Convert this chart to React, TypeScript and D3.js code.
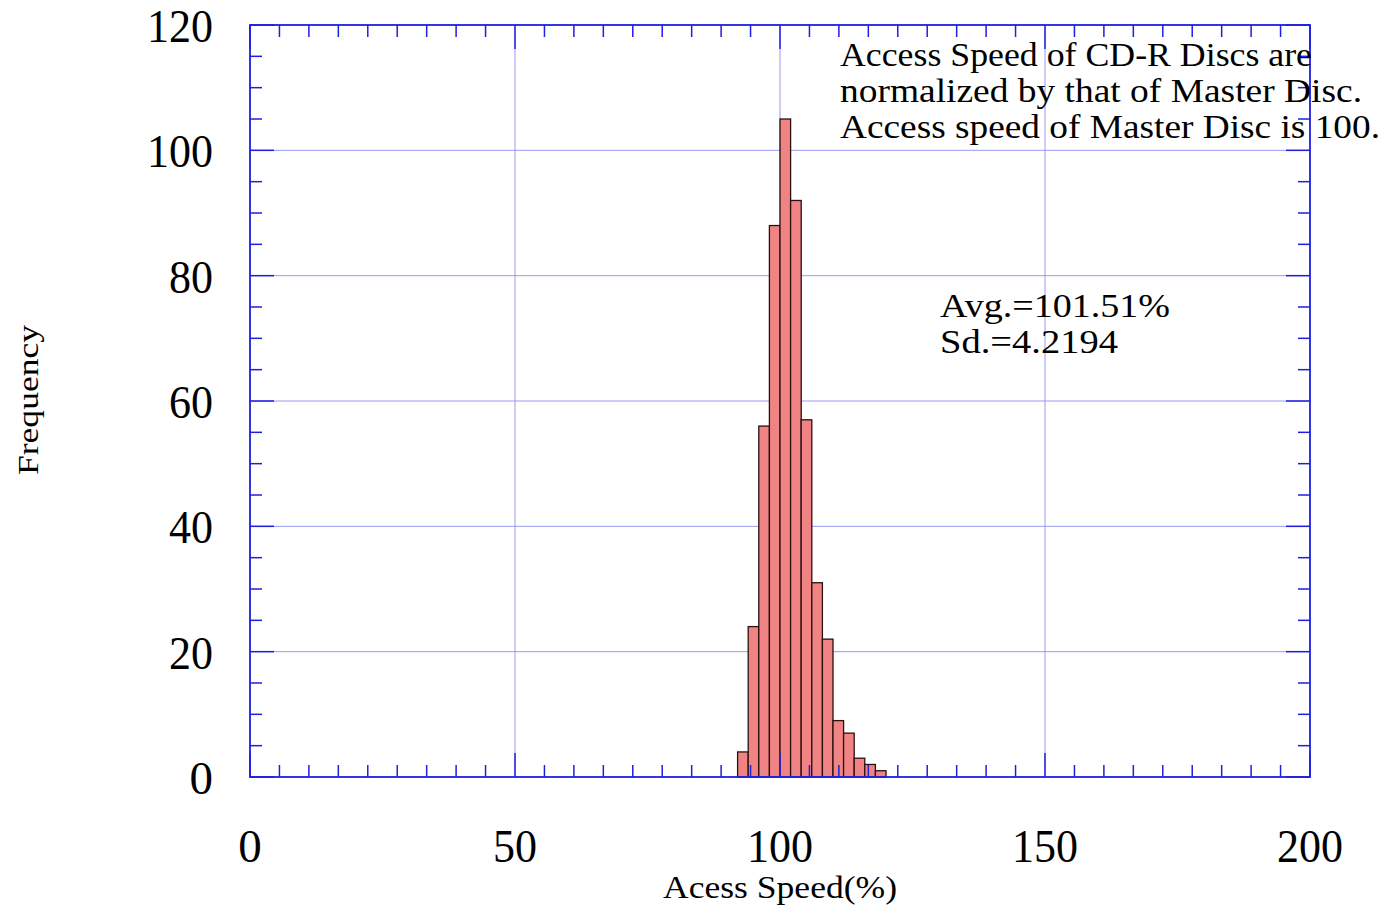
import React from "react";
import * as d3 from "d3";

const binStarts = [92, 94, 96, 98, 100, 102, 104, 106, 108, 110, 112, 114, 116, 118];
const binWidth = 2;
const frequencies = [4, 24, 56, 88, 105, 92, 57, 31, 22, 9, 7, 3, 2, 1];
const xTicks = [0, 50, 100, 150, 200];
const yTicks = [0, 20, 40, 60, 80, 100, 120];
const noteLines = [
  "Access Speed of CD-R Discs are",
  "normalized by that of Master Disc.",
  "Access speed of Master Disc is 100.",
];
const noteWidths = [472, 522, 540];
const statLines = ["Avg.=101.51%", "Sd.=4.2194"];
const statWidths = [230, 178];

const W = 1398;
const H = 908;
const L = 250, R = 1310, T = 25, B = 777;
const FONT = "'Liberation Serif', 'Times New Roman', serif";
const AXIS = "#1f1fe0";
const GRID = "#9a9aee";

export default function App() {
  const x = d3.scaleLinear().domain([0, 200]).range([L, R]);
  const y = d3.scaleLinear().domain([0, 120]).range([B, T]);

  const xMinor = d3.range(0, 9 * 4 + 1).map((i) => (i * 50) / 9).filter((_, i) => i % 9 !== 0);
  const yMinor = d3.range(0, 121, 5).filter((v) => v % 20 !== 0);
  const minorLen = 12;
  const majorLen = 24;

  const labelLen = (v: number) => (String(v).length === 3 ? 66 : String(v).length === 2 ? 44 : undefined);

  return (
    <svg width={W} height={H} style={{ position: "absolute", left: 0, top: 0, background: "#fff" }} fontFamily={FONT}>
      <rect x={0} y={0} width={W} height={H} fill="#fff" />
      {xTicks.slice(1, -1).map((v) => (
        <line key={"gx" + v} x1={x(v)} x2={x(v)} y1={T} y2={B} stroke={GRID} strokeWidth={1} />
      ))}
      {yTicks.slice(1, -1).map((v) => (
        <line key={"gy" + v} x1={L} x2={R} y1={y(v)} y2={y(v)} stroke={GRID} strokeWidth={1} />
      ))}
      {binStarts.map((s, i) => (
        <rect
          key={"b" + i}
          x={x(s)}
          y={y(frequencies[i])}
          width={x(s + binWidth) - x(s)}
          height={y(0) - y(frequencies[i])}
          fill="#f08484"
          stroke="#2a1010"
          strokeWidth={1.3}
        />
      ))}
      {xMinor.map((v, i) => (
        <g key={"xm" + i}>
          <line x1={x(v)} x2={x(v)} y1={B} y2={B - minorLen} stroke={AXIS} strokeWidth={1.5} />
          <line x1={x(v)} x2={x(v)} y1={T} y2={T + minorLen} stroke={AXIS} strokeWidth={1.5} />
        </g>
      ))}
      {yMinor.map((v) => (
        <g key={"ym" + v}>
          <line x1={L} x2={L + minorLen} y1={y(v)} y2={y(v)} stroke={AXIS} strokeWidth={1.5} />
          <line x1={R} x2={R - minorLen} y1={y(v)} y2={y(v)} stroke={AXIS} strokeWidth={1.5} />
        </g>
      ))}
      {xTicks.map((v) => (
        <g key={"xM" + v}>
          <line x1={x(v)} x2={x(v)} y1={B} y2={B - majorLen} stroke={AXIS} strokeWidth={1.5} />
          <line x1={x(v)} x2={x(v)} y1={T} y2={T + majorLen} stroke={AXIS} strokeWidth={1.5} />
        </g>
      ))}
      {yTicks.map((v) => (
        <g key={"yM" + v}>
          <line x1={L} x2={L + majorLen} y1={y(v)} y2={y(v)} stroke={AXIS} strokeWidth={1.5} />
          <line x1={R} x2={R - majorLen} y1={y(v)} y2={y(v)} stroke={AXIS} strokeWidth={1.5} />
        </g>
      ))}
      <rect x={L} y={T} width={R - L} height={B - T} fill="none" stroke={AXIS} strokeWidth={1.8} />
      {xTicks.map((v) => (
        <text
          key={"xl" + v}
          x={x(v)}
          y={862}
          textAnchor="middle"
          fontSize={47}
          fill="#000"
          textLength={labelLen(v)}
          lengthAdjust="spacingAndGlyphs"
        >
          {v}
        </text>
      ))}
      {yTicks.map((v) => (
        <text
          key={"yl" + v}
          x={213}
          y={y(v) + 17}
          textAnchor="end"
          fontSize={47}
          fill="#000"
          textLength={labelLen(v)}
          lengthAdjust="spacingAndGlyphs"
        >
          {v}
        </text>
      ))}
      <text x={780} y={898} textAnchor="middle" fontSize={31} fill="#000" textLength={234} lengthAdjust="spacingAndGlyphs">
        Acess Speed(%)
      </text>
      <text
        transform="translate(38,400) rotate(-90)"
        textAnchor="middle"
        fontSize={30}
        fill="#000"
        textLength={150}
        lengthAdjust="spacingAndGlyphs"
      >
        Frequency
      </text>
      {noteLines.map((s, i) => (
        <text key={"n" + i} x={840} y={66 + i * 36} fontSize={34} fill="#000" textLength={noteWidths[i]} lengthAdjust="spacingAndGlyphs">
          {s}
        </text>
      ))}
      {statLines.map((s, i) => (
        <text key={"s" + i} x={940} y={317 + i * 36} fontSize={33} fill="#000" textLength={statWidths[i]} lengthAdjust="spacingAndGlyphs">
          {s}
        </text>
      ))}
    </svg>
  );
}
